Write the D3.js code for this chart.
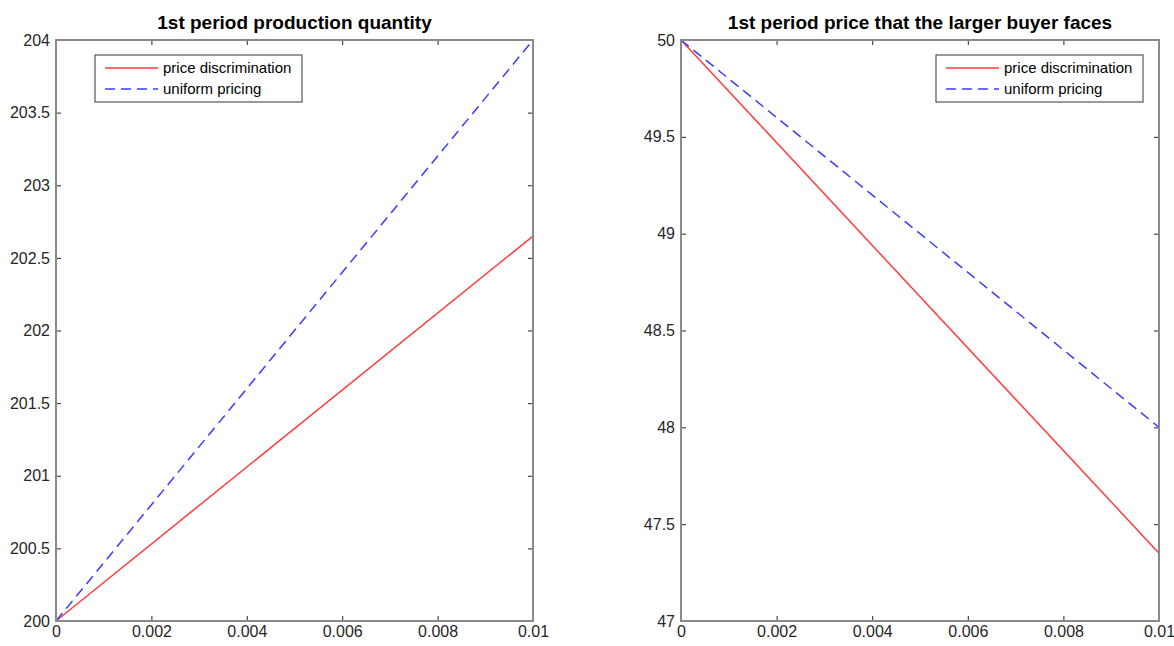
<!DOCTYPE html>
<html>
<head>
<meta charset="utf-8">
<script src="https://cdn.jsdelivr.net/npm/d3@7"></script>
<style>
  body { margin: 0; background: #fff; }
  svg text { font-family: "Liberation Sans", Arial, sans-serif; }
  .tick text { fill: #262626; font-size: 16px; }
  .tick line { stroke: #262626; }
</style>
</head>
<body>
<div id="chart"></div>
<script>
// x values (epsilon)
var xVals = [0, 0.01];

// left panel: production quantity
var qtyDiscrimination = [200, 202.65];
var qtyUniform = [200, 204];
var qtyTicks = [200, 200.5, 201, 201.5, 202, 202.5, 203, 203.5, 204];

// right panel: price faced by the larger buyer
var priceDiscrimination = [50, 47.35];
var priceUniform = [50, 48];
var priceTicks = [47, 47.5, 48, 48.5, 49, 49.5, 50];

var xTicks = [0, 0.002, 0.004, 0.006, 0.008, 0.01];
var seriesNames = ['price discrimination', 'uniform pricing'];

var W = 1174, H = 646;
var svg = d3.select('#chart').append('svg')
  .attr('width', W)
  .attr('height', H);

function fmt(d) {
  return d3.format('~g')(d);
}

function drawPanel(opt) {
  var g = svg.append('g')
    .attr('transform', 'translate(' + opt.left + ',' + opt.top + ')');
  var w = opt.width, h = opt.height;

  var x = d3.scaleLinear().domain([0, 0.01]).range([0, w]);
  var y = d3.scaleLinear().domain(opt.yDomain).range([h, 0]);

  // title
  g.append('text')
    .attr('x', w / 2)
    .attr('y', -11)
    .attr('text-anchor', 'middle')
    .style('font-size', '19px')
    .style('font-weight', 'bold')
    .style('fill', '#000')
    .text(opt.title);

  // inward ticks on all four sides
  g.append('g')
    .attr('transform', 'translate(0,' + h + ')')
    .call(d3.axisBottom(x).tickValues(xTicks).tickFormat(fmt).tickSize(-5).tickPadding(5));
  g.append('g')
    .call(d3.axisTop(x).tickValues(xTicks).tickFormat('').tickSize(-5));
  g.append('g')
    .call(d3.axisLeft(y).tickValues(opt.yTicks).tickFormat(fmt).tickSize(-5).tickPadding(6));
  g.append('g')
    .attr('transform', 'translate(' + w + ',0)')
    .call(d3.axisRight(y).tickValues(opt.yTicks).tickFormat('').tickSize(-5));
  g.selectAll('.domain').remove();

  // lines
  var line = d3.line()
    .x(function(d) { return x(d[0]); })
    .y(function(d) { return y(d[1]); });

  g.append('path')
    .datum(d3.zip(xVals, opt.red))
    .attr('fill', 'none')
    .attr('stroke', '#ff3b3b')
    .attr('stroke-width', 1.5)
    .attr('d', line);

  g.append('path')
    .datum(d3.zip(xVals, opt.blue))
    .attr('fill', 'none')
    .attr('stroke', '#3b3bff')
    .attr('stroke-width', 1.5)
    .attr('stroke-dasharray', '10,6')
    .attr('d', line);

  // box
  g.append('rect')
    .attr('width', w)
    .attr('height', h)
    .attr('fill', 'none')
    .attr('stroke', '#8a8a8a')
    .attr('stroke-width', 2);

  // legend
  var lg = g.append('g')
    .attr('transform', 'translate(' + opt.legendX + ',15)');
  lg.append('rect')
    .attr('width', 207)
    .attr('height', 47)
    .attr('fill', '#fff')
    .attr('stroke', '#555')
    .attr('stroke-width', 1.2);

  var items = lg.selectAll('.item')
    .data(seriesNames)
    .enter().append('g')
    .attr('class', 'item')
    .attr('transform', function(d, i) { return 'translate(0,' + (13 + i * 21) + ')'; });

  items.append('line')
    .attr('x1', 10)
    .attr('x2', 63)
    .attr('stroke', function(d, i) { return i == 0 ? '#ff3b3b' : '#3b3bff'; })
    .attr('stroke-width', 1.5)
    .attr('stroke-dasharray', function(d, i) { return i == 0 ? null : '10,6'; });

  items.append('text')
    .attr('x', 68)
    .attr('dy', '0.35em')
    .style('font-size', '15px')
    .style('fill', '#000')
    .text(function(d) { return d; });
}

drawPanel({
  left: 56, top: 40, width: 477, height: 581,
  yDomain: [200, 204], yTicks: qtyTicks,
  red: qtyDiscrimination, blue: qtyUniform,
  title: '1st period production quantity',
  legendX: 39
});

drawPanel({
  left: 681, top: 40, width: 478, height: 581,
  yDomain: [47, 50], yTicks: priceTicks,
  red: priceDiscrimination, blue: priceUniform,
  title: '1st period price that the larger buyer faces',
  legendX: 255
});
</script>
</body>
</html>
